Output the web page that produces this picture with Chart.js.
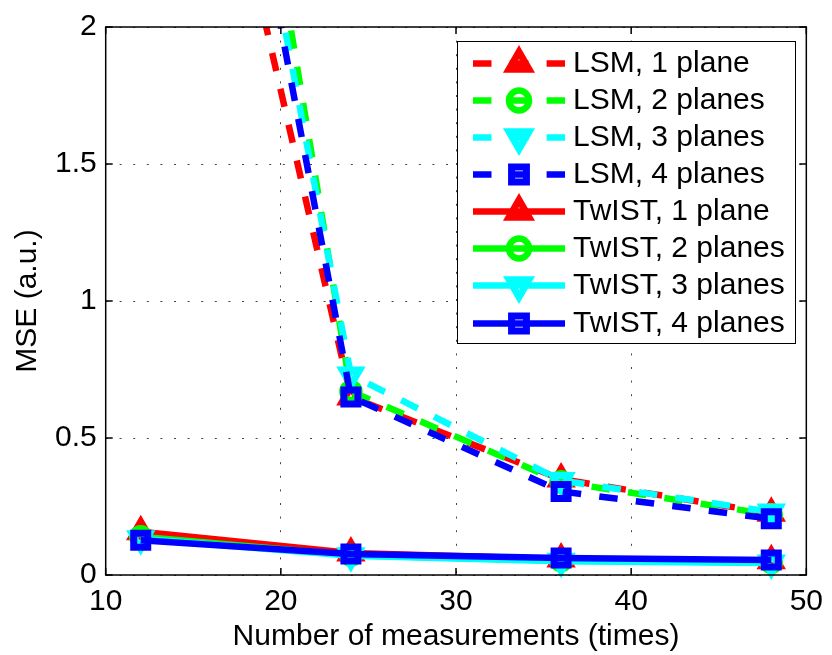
<!DOCTYPE html>
<html>
<head>
<meta charset="utf-8">
<script src="https://cdn.jsdelivr.net/npm/chart.js@4/dist/chart.umd.min.js"></script>
<style>
html, body { margin: 0; padding: 0; background: #fff; }
#wrap { position: relative; width: 832px; height: 655px; }
#legend-box { position: absolute; left: 457px; top: 41px; width: 339px; height: 303px; border: 1.5px solid #000; box-sizing: border-box; background: #fff; }
.lg-sample { position: absolute; left: 466px; width: 110px; height: 37px; }
.lg-text { position: absolute; left: 573px; height: 37px; line-height: 37px; font: 30px "Liberation Sans", Arial, sans-serif; color: #000; white-space: nowrap; }
</style>
</head>
<body>
<div id="wrap">
  <canvas id="chart" width="832" height="655"></canvas>
  <div id="legend-box"></div>
</div>
<script>
// measurements per point (x axis)
var measurements = [12, 24, 36, 48];

// MSE values, LSM reconstruction
var lsm1 = [4.0, 0.65, 0.35, 0.225];
var lsm2 = [5.3, 0.67, 0.34, 0.22];
var lsm3 = [4.75, 0.73, 0.345, 0.23];
var lsm4 = [4.7, 0.65, 0.305, 0.205];

// MSE values, TwIST reconstruction
var twist1 = [0.158, 0.08, 0.058, 0.052];
var twist2 = [0.14, 0.072, 0.052, 0.046];
var twist3 = [0.132, 0.07, 0.05, 0.044];
var twist4 = [0.127, 0.077, 0.062, 0.055];

var xTicks = [10, 20, 30, 40, 50];
var yTicks = [0, 0.5, 1, 1.5, 2];

var seriesNames = ['LSM, 1 plane', 'LSM, 2 planes', 'LSM, 3 planes', 'LSM, 4 planes',
                   'TwIST, 1 plane', 'TwIST, 2 planes', 'TwIST, 3 planes', 'TwIST, 4 planes'];
var seriesValues = [lsm1, lsm2, lsm3, lsm4, twist1, twist2, twist3, twist4];

var colors = ['#ff0000', '#00ff00', '#00ffff', '#0000ff'];
var markers = [
    { style: 'triangle', rot: 0, r: 10, w: 7, lr: 11.5 },
    { style: 'circle', rot: 0, r: 8.5, w: 6.5, lr: 10 },
    { style: 'triangle', rot: 180, r: 10, w: 7, lr: 11.5 },
    { style: 'rect', rot: 0, r: 9.9, w: 7, lr: 10.5 }
];
var dash = [18.5, 18.3];

var datasets = seriesValues.map(function (vals, i) {
    var k = i % 4;
    return {
        label: seriesNames[i],
        data: vals.map(function (v, j) { return { x: measurements[j], y: v }; }),
        borderColor: colors[k],
        borderWidth: 6.5,
        borderDash: i < 4 ? dash : [],
        pointStyle: markers[k].style,
        pointRotation: markers[k].rot,
        pointRadius: markers[k].r,
        pointBorderWidth: markers[k].w,
        pointBorderColor: colors[k],
        pointBackgroundColor: 'rgba(0,0,0,0)',
        tension: 0,
        fill: false,
        clip: { left: 30, top: 0, right: 30, bottom: 30 },
        order: seriesValues.length - i
    };
});

// axes box with inward ticks, like the matlab figure
var boxPlugin = {
    id: 'axesBox',
    afterDraw: function (chart) {
        var ctx = chart.ctx, a = chart.chartArea;
        var xs = chart.scales.x, ys = chart.scales.y;
        ctx.save();
        ctx.strokeStyle = '#000';
        ctx.lineWidth = 1.5;
        ctx.strokeRect(a.left, a.top, a.right - a.left, a.bottom - a.top);
        ctx.beginPath();
        xs.ticks.forEach(function (t) {
            var px = xs.getPixelForValue(t.value);
            ctx.moveTo(px, a.bottom); ctx.lineTo(px, a.bottom - 7);
            ctx.moveTo(px, a.top); ctx.lineTo(px, a.top + 7);
        });
        ys.ticks.forEach(function (t) {
            var py = ys.getPixelForValue(t.value);
            ctx.moveTo(a.left, py); ctx.lineTo(a.left + 7, py);
            ctx.moveTo(a.right, py); ctx.lineTo(a.right - 7, py);
        });
        ctx.stroke();
        ctx.restore();
    }
};

Chart.defaults.font.family = '"Liberation Sans", Arial, sans-serif';
Chart.defaults.font.size = 30;
Chart.defaults.color = '#000';

var ctx = document.getElementById('chart').getContext('2d');
var chart = new Chart(ctx, {
    type: 'line',
    data: { datasets: datasets },
    options: {
        responsive: false,
        animation: false,
        events: [],
        layout: { padding: { top: 26, right: 22, bottom: 0, left: 0 } },
        plugins: { legend: { display: false }, tooltip: { enabled: false } },
        scales: {
            x: {
                type: 'linear',
                min: 10,
                max: 50,
                afterBuildTicks: function (s) { s.ticks = xTicks.map(function (v) { return { value: v }; }); },
                afterFit: function (s) { s.height = 80; },
                ticks: { padding: 9, maxRotation: 0, callback: function (v) { return String(v); } },
                grid: { color: '#444', lineWidth: 1, drawTicks: false },
                border: { display: false, dash: [2, 11.6] },
                title: { display: true, text: 'Number of measurements (times)', padding: { top: 0, bottom: 0 } }
            },
            y: {
                min: 0,
                max: 2,
                afterBuildTicks: function (s) { s.ticks = yTicks.map(function (v) { return { value: v }; }); },
                afterFit: function (s) { s.width = 105.7; },
                ticks: { padding: 9, callback: function (v) { return String(v); } },
                grid: { color: '#444', lineWidth: 1, drawTicks: false },
                border: { display: false, dash: [2, 11.6] },
                title: { display: true, text: 'MSE (a.u.)', padding: { top: 9.5, bottom: 0 } }
            }
        }
    },
    plugins: [boxPlugin]
});

// legend: line sample + marker + text
function drawMarker(c, m, x, y, r) {
    c.beginPath();
    if (m.style === 'circle') {
        c.arc(x, y, r, 0, Math.PI * 2);
    } else if (m.style === 'rect') {
        var s = Math.SQRT1_2 * r;
        c.rect(x - s, y - s, 2 * s, 2 * s);
    } else {
        var rad = m.rot * Math.PI / 180;
        for (var k = 0; k < 3; k++) {
            var px = x + Math.sin(rad) * r, py = y - Math.cos(rad) * r;
            if (k === 0) c.moveTo(px, py); else c.lineTo(px, py);
            rad += 2 * Math.PI / 3;
        }
        c.closePath();
    }
    c.stroke();
}

var wrap = document.getElementById('wrap');
seriesNames.forEach(function (name, i) {
    var k = i % 4;
    var cy = 63.3 + 37.1 * i;
    var cv = document.createElement('canvas');
    cv.width = 110; cv.height = 37;
    cv.className = 'lg-sample';
    cv.style.top = (cy - 18.5) + 'px';
    wrap.appendChild(cv);
    var c = cv.getContext('2d');
    c.strokeStyle = colors[k];
    c.lineWidth = 6.5;
    c.setLineDash(i < 4 ? dash : []);
    c.beginPath();
    c.moveTo(7, 18.5);
    c.lineTo(99, 18.5);
    c.stroke();
    c.setLineDash([]);
    c.lineWidth = markers[k].w;
    drawMarker(c, markers[k], 53, 18.5, markers[k].lr);
    var tx = document.createElement('div');
    tx.className = 'lg-text';
    tx.style.top = (cy - 18.5) + 'px';
    tx.textContent = name;
    wrap.appendChild(tx);
});
</script>
</body>
</html>
